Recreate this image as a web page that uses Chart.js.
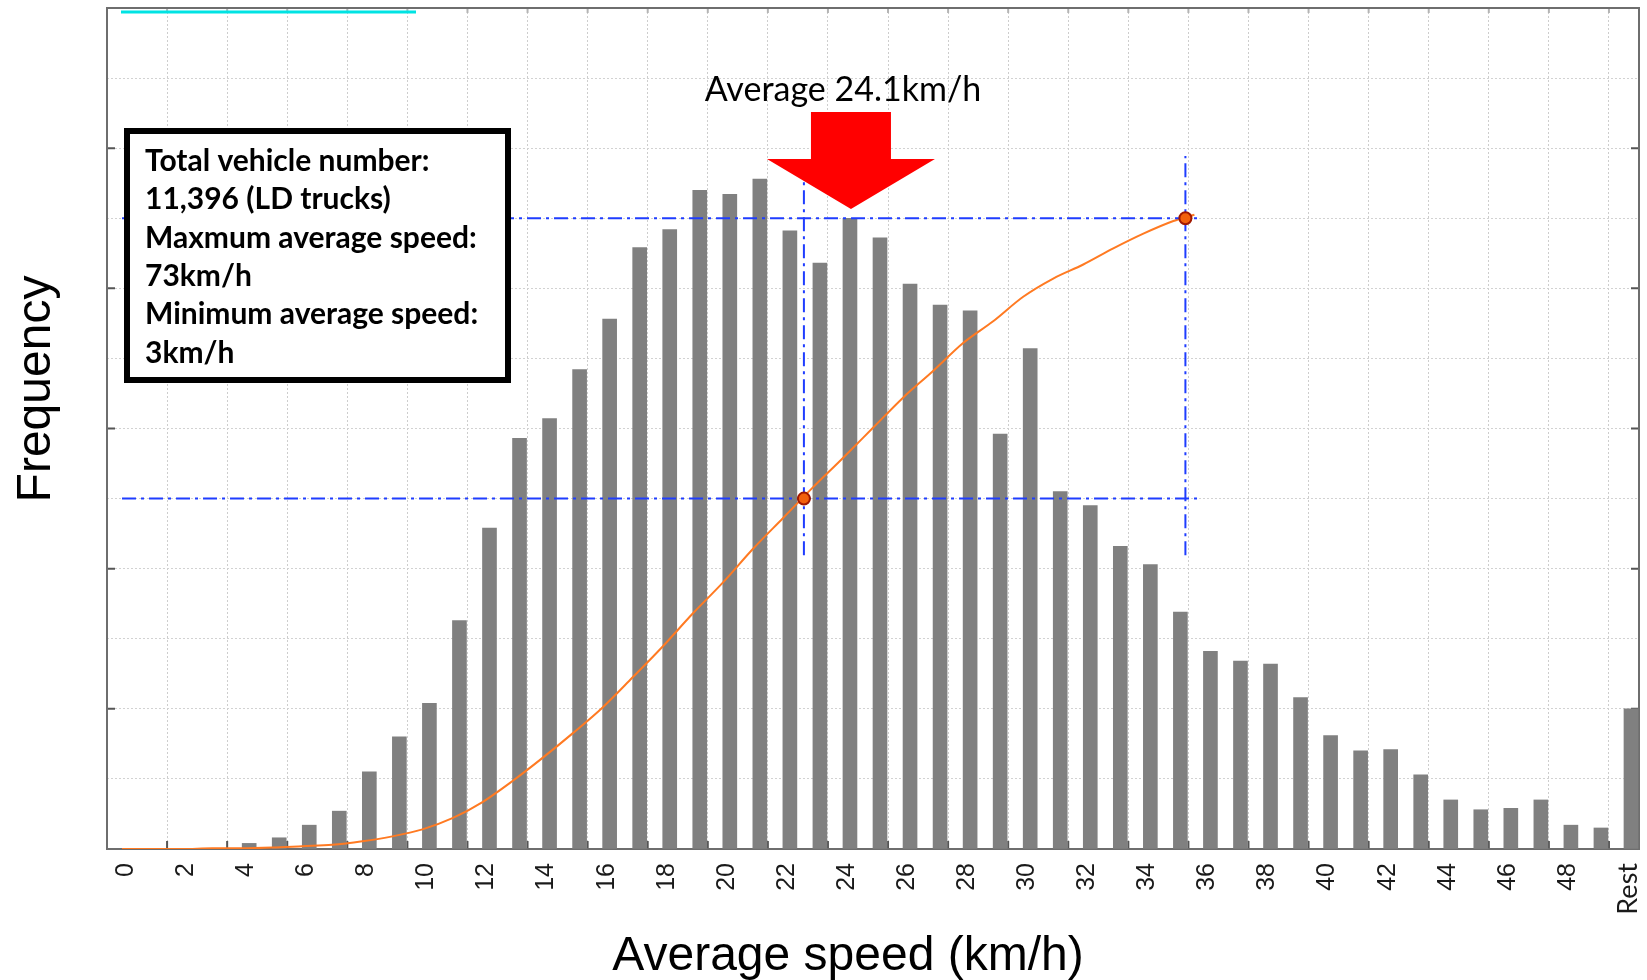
<!DOCTYPE html>
<html>
<head>
<meta charset="utf-8">
<title>Average speed distribution</title>
<script src="https://cdn.jsdelivr.net/npm/chart.js@4.4.1/dist/chart.umd.min.js"></script>
<style>
  html, body { margin: 0; padding: 0; background: #fff; }
  #wrap { width: 1647px; height: 980px; position: relative; }
</style>
</head>
<body>
<div id="wrap"><canvas id="myChart"></canvas></div>
<script>
// speed bins in km/h, the last one holds everything from 50 up
const speedBins = ['0','1','2','3','4','5','6','7','8','9','10','11','12','13','14','15','16','17','18','19',
  '20','21','22','23','24','25','26','27','28','29','30','31','32','33','34','35','36','37','38','39',
  '40','41','42','43','44','45','46','47','48','49','Rest'];

// vehicles per bin (one grid step = 50)
const frequency = [0, 0, 0, 0, 4, 8, 17, 27, 55, 80, 104, 163, 229, 293, 307, 342, 378, 429, 442, 470,
  467, 478, 441, 418, 450, 436, 403, 388, 384, 296, 357, 255, 245, 216, 203, 169, 141, 134, 132, 108,
  81, 70, 71, 53, 35, 28, 29, 35, 17, 15, 100];

// orange cumulative curve (% of vehicles)
const cumSpeed = [0, 1, 2, 3, 4, 5, 6, 7, 8, 9, 10, 11, 12, 13, 14, 15, 16, 17, 18, 19, 20,
  21, 22, 23, 24, 25, 26, 27, 28, 29, 30, 31, 32, 33, 34, 35, 35.7];
const cumShare = [0, 0, 0, 0.1, 0.1, 0.2, 0.4, 0.6, 1.1, 1.8, 2.8, 4.4, 6.7, 9.7, 13.0, 16.5, 20.2, 24.5, 28.9, 33.6, 38.0,
  42.8, 47.2, 51.6, 55.8, 60.1, 64.4, 68.2, 72.2, 75.3, 78.8, 81.4, 83.4, 85.7, 87.8, 89.6, 90.5];

// 50% and 90% points and their dash-dot guides
const markSpeed = [22.7, 35.4];
const markShare = [50, 90];
const guideEnd = 35.8;
const guideLow = 41.9;
const guideTop = [97.3, 98.9];

const avgSpeed = 24.1;
const avgText = 'Average 24.1km/h';
const infoLines = ['Total vehicle number:', '11,396 (LD trucks)', 'Maxmum average speed:', '73km/h',
  'Minimum average speed:', '3km/h'];

const blue = '#1f3dff';
const dashDot = [14, 5, 3, 5];

function guideSets() {
  let sets = [];
  markShare.forEach(function(p) {
    sets.push({ type: 'line', xAxisID: 'xLin', yAxisID: 'yPct', order: 1,
      data: [{x: 0, y: p}, {x: guideEnd, y: p}],
      borderColor: blue, borderWidth: 2, borderDash: dashDot, pointRadius: 0 });
  });
  markSpeed.forEach(function(s, i) {
    sets.push({ type: 'line', xAxisID: 'xLin', yAxisID: 'yPct', order: 1,
      data: [{x: s, y: guideLow}, {x: s, y: guideTop[i]}],
      borderColor: blue, borderWidth: 2, borderDash: dashDot, pointRadius: 0 });
  });
  return sets;
}

// frame, tick marks, info box, arrow and the axis titles
const decor = {
  id: 'decor',
  beforeDatasetsDraw(chart) {
    const ctx = chart.ctx;
    const a = chart.chartArea;
    const xl = chart.scales.xLin;
    const y = chart.scales.y;
    ctx.save();

    // small inward tick marks like the original plot
    ctx.lineWidth = 2;
    ctx.strokeStyle = '#555';
    ctx.beginPath();
    for (let v = 1.5; v < 50; v += 2) {
      const px = xl.getPixelForValue(v);
      ctx.moveTo(px, a.bottom); ctx.lineTo(px, a.bottom - 8);
    }
    for (let v = 100; v < 600; v += 100) {
      const py = y.getPixelForValue(v);
      ctx.moveTo(a.left, py); ctx.lineTo(a.left + 8, py);
      ctx.moveTo(a.right, py); ctx.lineTo(a.right - 8, py);
    }
    ctx.stroke();
    ctx.strokeStyle = '#b4b4b4';
    ctx.beginPath();
    for (let v = 1.5; v < 50; v += 2) {
      const px = xl.getPixelForValue(v);
      ctx.moveTo(px, a.top); ctx.lineTo(px, a.top + 5);
    }
    ctx.stroke();

    // plot frame
    ctx.strokeStyle = '#6e6e6e';
    ctx.lineWidth = 2;
    ctx.strokeRect(a.left, a.top, a.right - a.left, a.bottom - a.top);
    ctx.restore();
  },
  afterDatasetsDraw(chart) {
    const ctx = chart.ctx;
    const a = chart.chartArea;
    const xl = chart.scales.xLin;
    ctx.save();

    // cyan strip at top left
    ctx.strokeStyle = '#00e3e3';
    ctx.lineWidth = 3;
    ctx.beginPath();
    ctx.moveTo(a.left + 14, a.top + 4);
    ctx.lineTo(a.left + 309, a.top + 4);
    ctx.stroke();

    // info box
    ctx.fillStyle = '#fff';
    ctx.fillRect(a.left + 17, a.top + 120, 387, 255);
    ctx.strokeStyle = '#000';
    ctx.lineWidth = 6;
    ctx.strokeRect(a.left + 20, a.top + 123, 381, 249);
    ctx.fillStyle = '#000';
    ctx.font = 'bold 30px Lato';
    ctx.textAlign = 'left';
    ctx.textBaseline = 'alphabetic';
    infoLines.forEach(function(t, i) {
      ctx.fillText(t, a.left + 38, a.top + 163 + i * 38.3);
    });

    // red arrow pointing at the average (drawn a touch right, as in the original)
    const tx = xl.getPixelForValue(avgSpeed) + 5;
    const tip = a.top + 201;
    ctx.fillStyle = '#ff0000';
    ctx.beginPath();
    ctx.moveTo(tx - 40, a.top + 104);
    ctx.lineTo(tx + 40, a.top + 104);
    ctx.lineTo(tx + 40, a.top + 151);
    ctx.lineTo(tx + 84, a.top + 151);
    ctx.lineTo(tx, tip);
    ctx.lineTo(tx - 84, a.top + 151);
    ctx.lineTo(tx - 40, a.top + 151);
    ctx.closePath();
    ctx.fill();

    ctx.fillStyle = '#000';
    ctx.font = '34px Lato';
    ctx.textAlign = 'center';
    ctx.fillText(avgText, tx - 8, a.top + 93);
    ctx.restore();
  },
  afterDraw(chart) {
    const ctx = chart.ctx;
    const a = chart.chartArea;
    ctx.save();
    ctx.fillStyle = '#000';
    ctx.font = '48px "Liberation Sans"';
    ctx.textAlign = 'center';
    ctx.textBaseline = 'alphabetic';
    ctx.fillText('Average speed (km/h)', 848, 970);
    ctx.translate(50, a.top + 381);
    ctx.rotate(-Math.PI / 2);
    ctx.fillText('Frequency', 0, 0);
    ctx.restore();
  }
};

const ctx = document.getElementById('myChart');
const c = new Chart(ctx, {
  type: 'bar',
  data: {
    labels: speedBins,
    datasets: [
      { type: 'line', xAxisID: 'xLin', yAxisID: 'yPct', order: 0,
        data: markSpeed.map((s, i) => ({x: s, y: markShare[i]})),
        showLine: false, pointRadius: 6, pointBorderWidth: 2,
        pointBackgroundColor: '#f2600c', pointBorderColor: '#a01800' },
      ...guideSets(),
      { type: 'line', xAxisID: 'xLin', yAxisID: 'yPct', order: 2,
        data: cumSpeed.map((s, i) => ({x: s, y: cumShare[i]})),
        borderColor: '#ff7a22', borderWidth: 2, pointRadius: 0, cubicInterpolationMode: 'monotone' },
      { label: 'Frequency', data: frequency, xAxisID: 'x', yAxisID: 'y', order: 3,
        backgroundColor: '#808080', barThickness: 14 }
    ]
  },
  options: {
    responsive: true,
    maintainAspectRatio: false,
    animation: false,
    layout: { padding: { left: 107, right: 6, top: 7, bottom: 0 } },
    plugins: { legend: { display: false }, tooltip: { enabled: false } },
    scales: {
      x: {
        offset: true,
        grid: {
          offset: true,
          drawTicks: false,
          color: (g) => (g.index % 2 === 0 && g.index > 0 && g.index < speedBins.length) ? '#cdcdcd' : 'rgba(0,0,0,0)'
        },
        border: { display: false, dash: [2, 2] },
        ticks: {
          autoSkip: false, minRotation: 90, maxRotation: 90, padding: 14, labelOffset: 4, color: '#1a1a1a',
          font: (t) => t.index === speedBins.length - 1 ? {family: 'Lato', size: 27} : {family: 'Liberation Sans', size: 25},
          callback: function(val, i) { return i % 2 === 0 ? this.getLabelForValue(val) : ''; }
        },
        afterFit: (s) => { s.height = 131; s.paddingLeft = 0; s.paddingRight = 0; }
      },
      y: {
        min: 0, max: 600,
        ticks: { display: false, stepSize: 50 },
        grid: { color: '#d2d2d2', drawTicks: false },
        border: { display: false, dash: [2, 2] },
        afterFit: (s) => { s.width = 0; }
      },
      xLin: { type: 'linear', display: false, offset: false, grid: { offset: false }, min: -0.5, max: 50.5 },
      yPct: { type: 'linear', display: false, min: 0, max: 120 }
    }
  },
  plugins: [decor]
});
</script>
</body>
</html>
